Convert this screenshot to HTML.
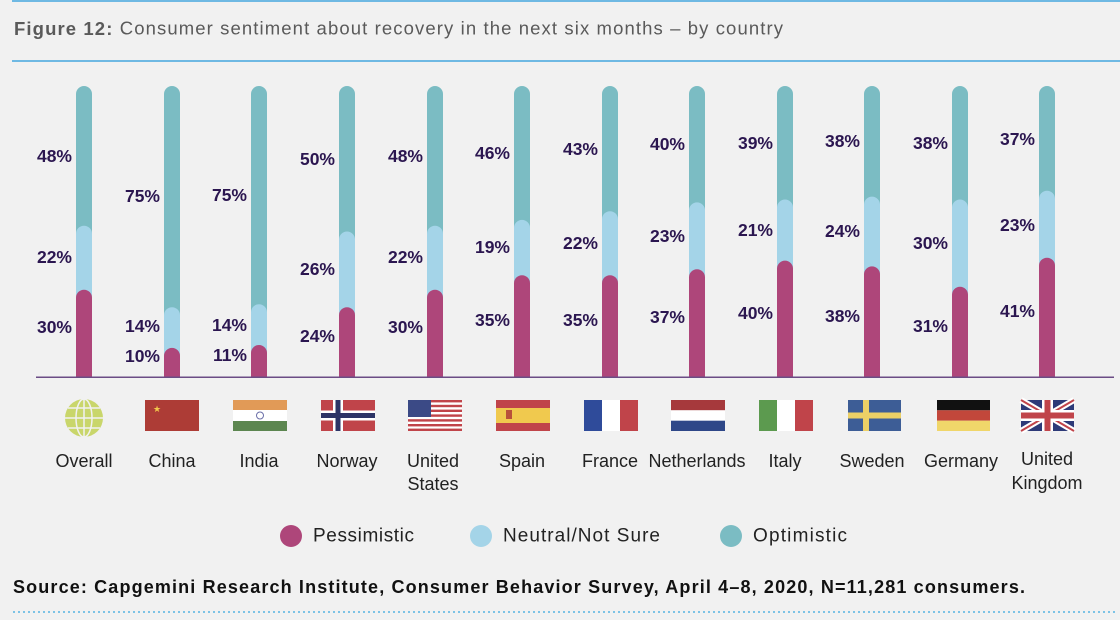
<!DOCTYPE html>
<html><head><meta charset="utf-8"><style>
html,body{margin:0;padding:0;background:#f1f1f1;}
svg{display:block;font-family:"Liberation Sans",sans-serif;}
.l{font-size:17.5px;font-weight:bold;fill:#2b1650;text-anchor:end;dominant-baseline:central;}
.c{font-size:18px;fill:#222;text-anchor:middle;dominant-baseline:central;}
</style></head><body>
<svg width="1120" height="620" viewBox="0 0 1120 620">
<rect width="1120" height="620" fill="#f1f1f1"/>
<rect x="12" y="0" width="1108" height="2" fill="#6fb9e3"/>
<text x="14" y="28" font-size="18.5" fill="#5a5a5a" dominant-baseline="central" textLength="769" lengthAdjust="spacing"><tspan font-weight="bold">Figure 12:</tspan> Consumer sentiment about recovery in the next six months – by country</text>
<rect x="12" y="60" width="1108" height="2" fill="#6fb9e3"/>
<g id="bars">
<path d="M76 377V94A8 8 0 0 1 92 94V377Z" fill="#7bbcc3"/>
<path d="M76 377V233.7A8 8 0 0 1 92 233.7V377Z" fill="#a4d4e8"/>
<path d="M76 377V297.7A8 8 0 0 1 92 297.7V377Z" fill="#ae467a"/>
<path d="M164 377V94A8 8 0 0 1 180 94V377Z" fill="#7bbcc3"/>
<path d="M164 377V315.2A8 8 0 0 1 180 315.2V377Z" fill="#a4d4e8"/>
<path d="M164 377V355.9A8 8 0 0 1 180 355.9V377Z" fill="#ae467a"/>
<path d="M251 377V94A8 8 0 0 1 267 94V377Z" fill="#7bbcc3"/>
<path d="M251 377V312.3A8 8 0 0 1 267 312.3V377Z" fill="#a4d4e8"/>
<path d="M251 377V353A8 8 0 0 1 267 353V377Z" fill="#ae467a"/>
<path d="M339 377V94A8 8 0 0 1 355 94V377Z" fill="#7bbcc3"/>
<path d="M339 377V239.5A8 8 0 0 1 355 239.5V377Z" fill="#a4d4e8"/>
<path d="M339 377V315.2A8 8 0 0 1 355 315.2V377Z" fill="#ae467a"/>
<path d="M427 377V94A8 8 0 0 1 443 94V377Z" fill="#7bbcc3"/>
<path d="M427 377V233.7A8 8 0 0 1 443 233.7V377Z" fill="#a4d4e8"/>
<path d="M427 377V297.7A8 8 0 0 1 443 297.7V377Z" fill="#ae467a"/>
<path d="M514 377V94A8 8 0 0 1 530 94V377Z" fill="#7bbcc3"/>
<path d="M514 377V227.9A8 8 0 0 1 530 227.9V377Z" fill="#a4d4e8"/>
<path d="M514 377V283.2A8 8 0 0 1 530 283.2V377Z" fill="#ae467a"/>
<path d="M602 377V94A8 8 0 0 1 618 94V377Z" fill="#7bbcc3"/>
<path d="M602 377V219.2A8 8 0 0 1 618 219.2V377Z" fill="#a4d4e8"/>
<path d="M602 377V283.2A8 8 0 0 1 618 283.2V377Z" fill="#ae467a"/>
<path d="M689 377V94A8 8 0 0 1 705 94V377Z" fill="#7bbcc3"/>
<path d="M689 377V210.4A8 8 0 0 1 705 210.4V377Z" fill="#a4d4e8"/>
<path d="M689 377V277.3A8 8 0 0 1 705 277.3V377Z" fill="#ae467a"/>
<path d="M777 377V94A8 8 0 0 1 793 94V377Z" fill="#7bbcc3"/>
<path d="M777 377V207.5A8 8 0 0 1 793 207.5V377Z" fill="#a4d4e8"/>
<path d="M777 377V268.6A8 8 0 0 1 793 268.6V377Z" fill="#ae467a"/>
<path d="M864 377V94A8 8 0 0 1 880 94V377Z" fill="#7bbcc3"/>
<path d="M864 377V204.6A8 8 0 0 1 880 204.6V377Z" fill="#a4d4e8"/>
<path d="M864 377V274.4A8 8 0 0 1 880 274.4V377Z" fill="#ae467a"/>
<path d="M952 377V94A8 8 0 0 1 968 94V377Z" fill="#7bbcc3"/>
<path d="M952 377V207.5A8 8 0 0 1 968 207.5V377Z" fill="#a4d4e8"/>
<path d="M952 377V294.8A8 8 0 0 1 968 294.8V377Z" fill="#ae467a"/>
<path d="M1039 377V94A8 8 0 0 1 1055 94V377Z" fill="#7bbcc3"/>
<path d="M1039 377V198.8A8 8 0 0 1 1055 198.8V377Z" fill="#a4d4e8"/>
<path d="M1039 377V265.7A8 8 0 0 1 1055 265.7V377Z" fill="#ae467a"/>
</g>
<rect x="36" y="376.5" width="1078" height="1.5" fill="#6b4c85"/>
<g class="labels">
<text class="l" x="72" y="156">48%</text><text class="l" x="72" y="257">22%</text><text class="l" x="72" y="327">30%</text>
<text class="l" x="160" y="196">75%</text><text class="l" x="160" y="326">14%</text><text class="l" x="160" y="356">10%</text>
<text class="l" x="247" y="195">75%</text><text class="l" x="247" y="325">14%</text><text class="l" x="247" y="355">11%</text>
<text class="l" x="335" y="159">50%</text><text class="l" x="335" y="269">26%</text><text class="l" x="335" y="336">24%</text>
<text class="l" x="423" y="156">48%</text><text class="l" x="423" y="257">22%</text><text class="l" x="423" y="327">30%</text>
<text class="l" x="510" y="153">46%</text><text class="l" x="510" y="247">19%</text><text class="l" x="510" y="320">35%</text>
<text class="l" x="598" y="149">43%</text><text class="l" x="598" y="243">22%</text><text class="l" x="598" y="320">35%</text>
<text class="l" x="685" y="144">40%</text><text class="l" x="685" y="236">23%</text><text class="l" x="685" y="317">37%</text>
<text class="l" x="773" y="143">39%</text><text class="l" x="773" y="230">21%</text><text class="l" x="773" y="313">40%</text>
<text class="l" x="860" y="141">38%</text><text class="l" x="860" y="231">24%</text><text class="l" x="860" y="316">38%</text>
<text class="l" x="948" y="143">38%</text><text class="l" x="948" y="243">30%</text><text class="l" x="948" y="326">31%</text>
<text class="l" x="1035" y="139">37%</text><text class="l" x="1035" y="225">23%</text><text class="l" x="1035" y="311">41%</text>
</g>
<g>
<circle cx="84" cy="418" r="19" fill="#c9d66b"/>
<g stroke="#f1f1f1" stroke-width="1.5" fill="none">
<ellipse cx="84" cy="418" rx="8" ry="19"/><line x1="84" y1="399" x2="84" y2="437"/>
<line x1="65" y1="418" x2="103" y2="418"/><line x1="68" y1="408" x2="100" y2="408"/><line x1="68" y1="428" x2="100" y2="428"/>
</g>
<rect x="145" y="400" width="54" height="31" fill="#ad3c36"/>
<text x="153" y="412" font-size="9" fill="#f2c94c">★</text>
<rect x="233" y="400" width="54" height="31" fill="#fff"/>
<rect x="233" y="400" width="54" height="10" fill="#e19a57"/>
<rect x="233" y="421" width="54" height="10" fill="#5c8650"/>
<circle cx="260" cy="415.5" r="3.5" fill="none" stroke="#6b6fa8" stroke-width="1"/>
<rect x="321" y="400" width="54" height="31" fill="#c0444a"/>
<rect x="333" y="400" width="10" height="31" fill="#fff"/>
<rect x="321" y="410.5" width="54" height="10" fill="#fff"/>
<rect x="335.5" y="400" width="5" height="31" fill="#2d3466"/>
<rect x="321" y="413" width="54" height="5" fill="#2d3466"/>
<rect x="408" y="400" width="54" height="31" fill="#fff"/>
<g fill="#c0444a"><rect x="408" y="400" width="54" height="2.4"/><rect x="408" y="404.8" width="54" height="2.4"/><rect x="408" y="409.6" width="54" height="2.4"/><rect x="408" y="414.4" width="54" height="2.4"/><rect x="408" y="419.2" width="54" height="2.4"/><rect x="408" y="424" width="54" height="2.4"/><rect x="408" y="428.6" width="54" height="2.4"/></g>
<rect x="408" y="400" width="23" height="17" fill="#3b4a86"/>
<rect x="496" y="400" width="54" height="31" fill="#c0444a"/>
<rect x="496" y="408" width="54" height="15" fill="#f0c94e"/>
<rect x="506" y="410" width="6" height="9" fill="#b8503a"/>
<rect x="584" y="400" width="18" height="31" fill="#2f4b9a"/>
<rect x="602" y="400" width="18" height="31" fill="#fff"/>
<rect x="620" y="400" width="18" height="31" fill="#c0444a"/>
<rect x="671" y="400" width="54" height="10.3" fill="#a6393c"/>
<rect x="671" y="410.3" width="54" height="10.4" fill="#fff"/>
<rect x="671" y="420.7" width="54" height="10.3" fill="#2e4788"/>
<rect x="759" y="400" width="18" height="31" fill="#5c9a4f"/>
<rect x="777" y="400" width="18" height="31" fill="#fff"/>
<rect x="795" y="400" width="18" height="31" fill="#c0444a"/>
<rect x="848" y="400" width="53" height="31" fill="#3d5d96"/>
<rect x="863" y="400" width="6" height="31" fill="#ecd066"/>
<rect x="848" y="412.5" width="53" height="6" fill="#ecd066"/>
<rect x="937" y="400" width="53" height="10.3" fill="#111"/>
<rect x="937" y="410.3" width="53" height="10.4" fill="#c2473b"/>
<rect x="937" y="420.7" width="53" height="10.3" fill="#f0d66a"/>
<rect x="1021" y="400" width="53" height="31" fill="#2d3a78"/>
<g stroke="#fff" stroke-width="6"><line x1="1021" y1="400" x2="1074" y2="431"/><line x1="1074" y1="400" x2="1021" y2="431"/></g>
<g stroke="#c0444a" stroke-width="2"><line x1="1021" y1="400" x2="1074" y2="431"/><line x1="1074" y1="400" x2="1021" y2="431"/></g>
<rect x="1042" y="400" width="11" height="31" fill="#fff"/><rect x="1021" y="410" width="53" height="11" fill="#fff"/>
<rect x="1044.5" y="400" width="6" height="31" fill="#c0444a"/><rect x="1021" y="412.5" width="53" height="6" fill="#c0444a"/>
</g>
<g>
<text class="c" x="84" y="461">Overall</text>
<text class="c" x="172" y="461">China</text>
<text class="c" x="259" y="461">India</text>
<text class="c" x="347" y="461">Norway</text>
<text class="c" x="433" y="461">United</text><text class="c" x="433" y="484">States</text>
<text class="c" x="522" y="461">Spain</text>
<text class="c" x="610" y="461">France</text>
<text class="c" x="697" y="461">Netherlands</text>
<text class="c" x="785" y="461">Italy</text>
<text class="c" x="872" y="461">Sweden</text>
<text class="c" x="961" y="461">Germany</text>
<text class="c" x="1047" y="459">United</text><text class="c" x="1047" y="483">Kingdom</text>
</g>
<g font-size="19" fill="#222" dominant-baseline="central">
<circle cx="291" cy="536" r="11" fill="#ae467a"/><text x="313" y="536" textLength="101">Pessimistic</text>
<circle cx="481" cy="536" r="11" fill="#a4d4e8"/><text x="503" y="536" textLength="157">Neutral/Not Sure</text>
<circle cx="731" cy="536" r="11" fill="#7bbcc3"/><text x="753" y="536" textLength="94">Optimistic</text>
</g>
<text x="13" y="587" font-size="18" font-weight="bold" fill="#111" dominant-baseline="central" textLength="1012" lengthAdjust="spacing">Source: Capgemini Research Institute, Consumer Behavior Survey, April 4–8, 2020, N=11,281 consumers.</text>
<line x1="13" y1="612" x2="1117" y2="612" stroke="#7cc3e6" stroke-width="2" stroke-dasharray="2,3"/>
</svg>
</body></html>
